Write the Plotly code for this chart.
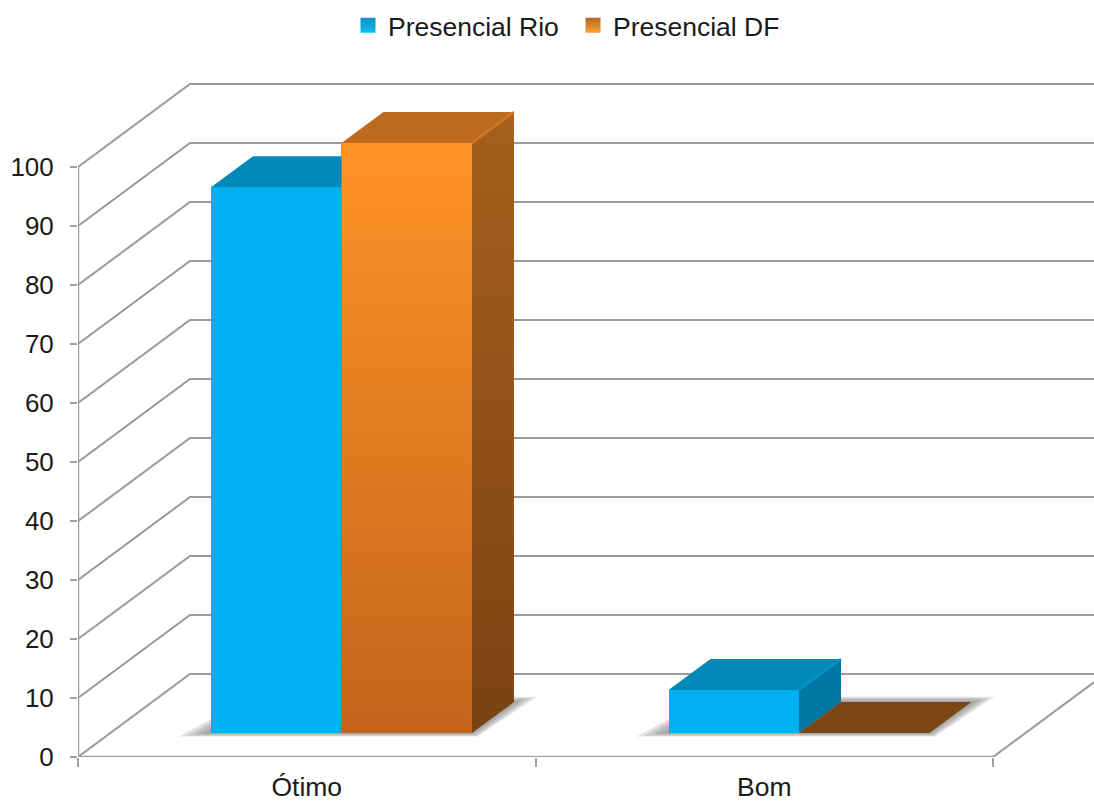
import plotly.graph_objects as go

categories = ["Ótimo", "Bom"]
rio_values = [92.5, 7.3]
df_values = [100, 0]
y_ticks = list(range(0, 101, 10))
series_names = ["Presencial Rio", "Presencial DF"]

# oblique projection of the fake 3D box, in axis units
WALL_DX, WALL_DY = 0.2448, 14.07
BAR_DX, BAR_DY = 0.0918, 5.25
BASE = 4.07
BAR_W = 0.2852
RIO_OFF, DF_OFF = 0.4333, 0.7185
XMAX, YMAX = 1016 / 457.5, 757 / 5.9
GRID = "#999999"

fig = go.Figure()


def line(xs, ys, color=GRID, width=2, clip=True, overlay=False):
    axes = dict(xaxis="x2", yaxis="y2") if overlay else {}
    fig.add_trace(go.Scatter(x=xs, y=ys, mode="lines", line=dict(color=color, width=width),
                             showlegend=False, hoverinfo="skip", cliponaxis=clip, **axes))


def poly(xs, ys, color, opacity=1.0, gradient=None, overlay=True):
    kw = {}
    if gradient:
        kw["fillgradient"] = dict(type="vertical", colorscale=[[0, gradient[0]], [1, gradient[1]]])
    axes = dict(xaxis="x2", yaxis="y2") if overlay else {}
    fig.add_trace(go.Scatter(x=xs + xs[:1], y=ys + ys[:1], mode="lines", fill="toself",
                             line=dict(width=0, color=color), fillcolor=color, opacity=opacity,
                             showlegend=False, hoverinfo="skip", **axes, **kw))


# wall grid on the primary axes
for v in y_ticks:
    line([0, WALL_DX, 2 + WALL_DX + 0.1], [v, v + WALL_DY, v + WALL_DY])
line([2, 2 + WALL_DX], [0, WALL_DY])
line([0, 0], [0, 100], "#a0a0a0", 2.5, False)
line([0, 2], [0, 0], "#a0a0a0", 2.5, False)

# legend swatches
for name, c0, c1 in zip(series_names, ["#0F8FC2", "#B8681F"], ["#12BDF5", "#FFA030"]):
    fig.add_trace(go.Scatter(x=[None], y=[None], mode="markers", name=name,
                             marker=dict(symbol="square", size=15, color=c0,
                                         gradient=dict(type="vertical", color=c1))))

# soft floor shadows, below the bars
for i in range(2):
    x0 = i + RIO_OFF - BAR_W / 2
    x1 = i + DF_OFF + BAR_W / 2
    for e in (1.0, 0.75, 0.5, 0.25):
        poly([x0 - e * 0.07, x1 + e * 0.012, x1 + BAR_DX + e * 0.05, x0 + BAR_DX],
             [BASE - e * 0.6, BASE - e * 0.6, BASE + BAR_DY + e * 0.9, BASE + BAR_DY + e * 0.9],
             "#707070", 0.2, overlay=False)

# front faces as real bars on the overlay axes
fig.add_trace(go.Bar(x=[i + RIO_OFF for i in range(2)], y=rio_values, base=BASE, width=BAR_W,
                     marker=dict(color="#00B0F0", line=dict(width=0)), showlegend=False,
                     xaxis="x2", yaxis="y2"))
fig.add_trace(go.Bar(x=[i + DF_OFF for i in range(2)], y=df_values, base=BASE, width=BAR_W,
                     marker=dict(color="#E8821F", line=dict(width=0)), showlegend=False,
                     xaxis="x2", yaxis="y2"))


def box_faces(cx, v, top, side, rim, side_grad=None):
    x0, x1 = cx - BAR_W / 2, cx + BAR_W / 2
    yt = BASE + v
    poly([x0, x1, x1 + BAR_DX, x0 + BAR_DX], [yt, yt, yt + BAR_DY, yt + BAR_DY], top)
    if v > 0:
        poly([x1, x1 + BAR_DX, x1 + BAR_DX, x1], [BASE, BASE + BAR_DY, yt + BAR_DY, yt], side,
             gradient=side_grad)
        line([x1, x1 + BAR_DX], [yt, yt + BAR_DY], rim, 2.5, overlay=True)


DF_TOPS = ["#BE6A1E", "#7C4615"]
for i in range(2):
    box_faces(i + RIO_OFF, rio_values[i], "#0088B8", "#0076A3", "#0093C6")
for i in range(2):
    box_faces(i + DF_OFF, df_values[i], DF_TOPS[i], "#8E5318", "#CE7A24",
              side_grad=("#7A4212", "#A65F1C"))
    if df_values[i] > 0:
        x0 = i + DF_OFF - BAR_W / 2
        x1 = x0 + BAR_W
        yt = BASE + df_values[i]
        poly([x0, x1, x1, x0], [BASE, BASE, yt, yt], "#E8821F", gradient=("#C4641B", "#FF9326"))

tick_font = dict(family="Liberation Sans, Arial, sans-serif", size=26, color="#1a1a1a")
text_font = dict(family="Liberation Sans, Arial, sans-serif", size=26.5, color="#1a1a1a")
fig.update_layout(
    width=1094, height=802, margin=dict(l=78, r=0, t=0, b=45, pad=0, autoexpand=False),
    paper_bgcolor="white", plot_bgcolor="white", barmode="overlay", bargap=0,
    font=tick_font,
    xaxis=dict(range=[0, XMAX], tickmode="array", tickvals=[0, 1, 2], ticktext=["", "", ""],
               ticks="outside", ticklen=9, tickwidth=2, tickcolor="#a0a0a0", showgrid=False,
               zeroline=False, showline=False, automargin=False),
    yaxis=dict(range=[0, YMAX], tickmode="array", tickvals=y_ticks, ticks="outside", ticklen=7,
               tickwidth=2, tickcolor="#a0a0a0", showgrid=False, zeroline=False, showline=False,
               ticklabelstandoff=11, tickfont=tick_font, automargin=False),
    xaxis2=dict(range=[0, XMAX], overlaying="x", anchor="y2", tickmode="array", tickvals=[0.5, 1.5],
                ticktext=categories, ticks="", showgrid=False, zeroline=False, showline=False,
                ticklabelstandoff=11, tickfont=text_font, automargin=False),
    yaxis2=dict(range=[0, YMAX], overlaying="y", anchor="x2", visible=False, automargin=False),
    legend=dict(orientation="h", x=0.4872, xref="paper", xanchor="center", y=0.998, yanchor="top",
                font=text_font, itemwidth=30, entrywidth=180, entrywidthmode="pixels",
                bgcolor="rgba(0,0,0,0)"),
)

fig.write_html("out.html", config=dict(displayModeBar=False),
               post_script="document.body.style.margin='0';document.body.style.overflow='hidden';")
